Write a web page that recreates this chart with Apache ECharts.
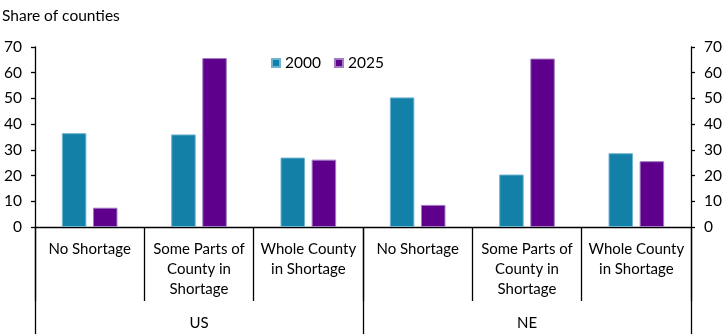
<!DOCTYPE html>
<html>
<head>
<meta charset="utf-8">
<script src="https://cdn.jsdelivr.net/npm/echarts@6/dist/echarts.min.js"></script>
<style>html,body{margin:0;padding:0;background:#fff}#c{width:725px;height:334px}</style>
</head>
<body>
<div id="c"></div>
<script>
const categories = ['No Shortage', 'Some Parts of\nCounty in\nShortage', 'Whole County\nin Shortage', 'No Shortage', 'Some Parts of\nCounty in\nShortage', 'Whole County\nin Shortage'];
const groups = ['US', 'NE'];
const series2000 = [36.5, 36.0, 27.0, 50.4, 20.4, 28.7];
const series2025 = [7.5, 65.7, 26.2, 8.6, 65.5, 25.6];
const yTicks = [0, 10, 20, 30, 40, 50, 60, 70];

const FONT = 'Lato';
const chart = echarts.init(document.getElementById('c'));
const yAxisCommon = {
  type: 'value', min: yTicks[0], max: yTicks[yTicks.length - 1], interval: 10,
  splitLine: { show: false },
  axisLine: { show: true, lineStyle: { color: '#000', width: 1.3 } },
  axisTick: { show: true, inside: false, length: 4, lineStyle: { color: '#000', width: 1.3 } },
  axisLabel: { color: '#000', fontFamily: FONT, fontSize: 15.5, margin: 13 }
};
chart.setOption({
  animation: false,
  textStyle: { fontFamily: FONT },
  title: { text: 'Share of counties', left: 2, top: 8, padding: 0, textStyle: { fontFamily: FONT, fontSize: 15.5, fontWeight: 'normal', color: '#000' } },
  legend: {
    left: 271, top: 55, padding: 0, icon: 'rect', itemWidth: 8, itemHeight: 8, itemGap: 13,
    textStyle: { fontFamily: FONT, fontSize: 15.5, color: '#000' },
    data: ['2000', '2025']
  },
  grid: { left: 35, right: 34, top: 47, bottom: 107 },
  xAxis: [
    {
      type: 'category', data: categories, position: 'bottom',
      axisLine: { show: true, lineStyle: { color: '#000', width: 1.3 } },
      axisTick: { show: true, alignWithLabel: false, length: 74, lineStyle: { color: '#000', width: 1.3 } },
      axisLabel: { interval: 0, color: '#000', fontFamily: FONT, fontSize: 15, lineHeight: 20, margin: 12 }
    },
    {
      type: 'category', data: groups, position: 'bottom', gridIndex: 0,
      axisLine: { show: false },
      axisTick: { show: true, alignWithLabel: false, length: 107, lineStyle: { color: '#000', width: 1.3 } },
      axisLabel: { interval: 0, color: '#000', fontFamily: FONT, fontSize: 15, lineHeight: 20, margin: 86 }
    }
  ],
  yAxis: [
    Object.assign({}, yAxisCommon, { position: 'left' }),
    Object.assign({}, yAxisCommon, { position: 'right' })
  ],
  series: [
    { name: '2000', type: 'bar', data: series2000, barWidth: 24.5, barGap: '27%',
      itemStyle: { color: '#1380a8', borderColor: '#6fb3cf', borderWidth: 1 } },
    { name: '2025', type: 'bar', data: series2025, barWidth: 24.5, barGap: '27%',
      itemStyle: { color: '#5e008c', borderColor: '#a27cc0', borderWidth: 1 } }
  ]
});
</script>
</body>
</html>
